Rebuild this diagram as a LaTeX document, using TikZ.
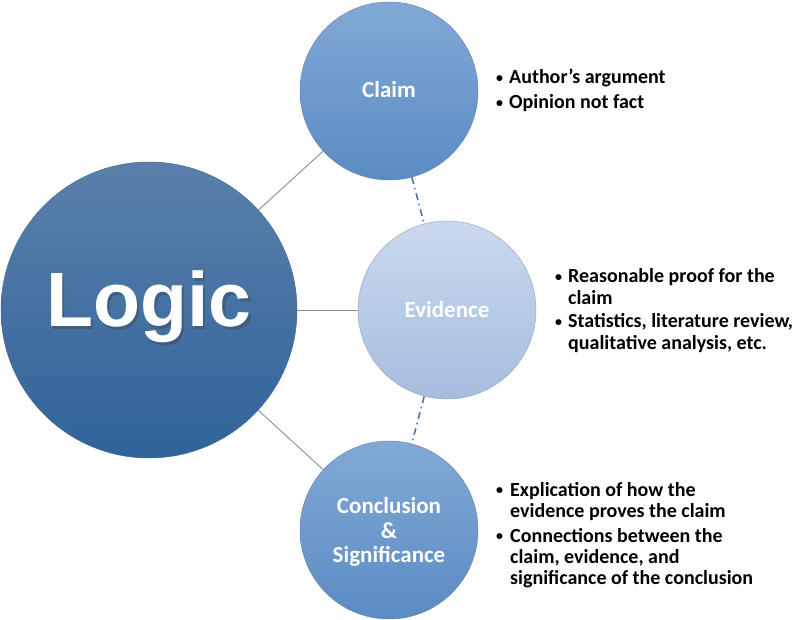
\documentclass[tikz,border=0pt]{standalone}
\usepackage{fontspec}
\setmainfont{Carlito}
\newfontfamily\arialfont{Liberation Sans}
\definecolor{logictop}{HTML}{5A80AA}
\definecolor{logicbot}{HTML}{30639A}
\definecolor{midtop}{HTML}{82A9D5}
\definecolor{midbot}{HTML}{5B8BC4}
\definecolor{evtop}{HTML}{CAD9EE}
\definecolor{evbot}{HTML}{A6BDDE}
\definecolor{linkc}{HTML}{7D91AA}
\definecolor{dashc}{HTML}{4A7AB0}
\newcommand{\bitem}[2]{\makebox[#1][l]{\raisebox{1.2pt}{\fontsize{14}{14}\selectfont•}}\begin{tabular}[t]{@{}l@{}}#2\end{tabular}}
\begin{document}
\begin{tikzpicture}[x=1pt,y=-1pt,
  bubble/.style={circle, inner sep=0pt, draw=#1!70!gray, line width=0.5pt},
  sublabel/.style={text=white, font=\fontsize{23}{24.5}\selectfont\bfseries, align=center},
  bultext/.style={anchor=base west, inner sep=0pt, font=\fontsize{20}{21.3}\selectfont\bfseries},
  link/.style={draw=linkc, line width=0.9pt},
  dlink/.style={draw=dashc, line width=1.6pt, dash pattern=on 7pt off 4pt on 1.5pt off 4pt}]
\useasboundingbox (0,0) rectangle (798,620);
\fill[white] (0,0) rectangle (798,620);
% circles
\node[bubble=logicbot, minimum size=296pt, top color=logictop, bottom color=logicbot] (logic) at (149,310) {};
\node[bubble=midbot, minimum size=178pt, top color=midtop, bottom color=midbot] (claim) at (389,91) {};
\node[bubble=evbot, minimum size=178pt, top color=evtop, bottom color=evbot] (evid) at (447,310) {};
\node[bubble=midbot, minimum size=178pt, top color=midtop, bottom color=midbot] (concl) at (389,530) {};
% connectors
\draw[link] (logic) -- (claim);
\draw[link] (logic) -- (evid);
\draw[link] (logic) -- (concl);
\draw[dlink] (claim) -- (evid);
\draw[dlink] (evid) -- (concl);
% labels
\node[text=black!80, opacity=0.3, font=\fontsize{77}{80}\selectfont\arialfont\bfseries] (logicsh) at (151.5,309.5) {Logic};
\node[text=white, font=\fontsize{77}{80}\selectfont\arialfont\bfseries] (logictxt) at (149,307) {Logic};
\node[sublabel] (claimtxt) at (389,90) {Claim};
\node[sublabel] (evidtxt) at (447,310) {Evidence};
\node[sublabel] (concltxt) at (389,532) {Conclusion\\\&\\Significance};
% bullets: claim
\node[bultext] (ca) at (496,84) {\bitem{13pt}{Author’s argument}};
\node[bultext] (cb) at (496,109) {\bitem{13pt}{Opinion not fact}};
% bullets: evidence
\node[bultext] (ea) at (555,283) {\bitem{13pt}{Reasonable proof for the\\claim}};
\node[bultext] (eb) at (555,328) {\bitem{13pt}{Statistics, literature review,\\qualitative analysis, etc.}};
% bullets: conclusion
\node[bultext] (xa) at (496,496) {\bitem{14pt}{Explication of how the\\evidence proves the claim}};
\node[bultext] (xb) at (496,542) {\bitem{14pt}{Connections between the\\claim, evidence, and\\significance of the conclusion}};
\end{tikzpicture}
\end{document}
